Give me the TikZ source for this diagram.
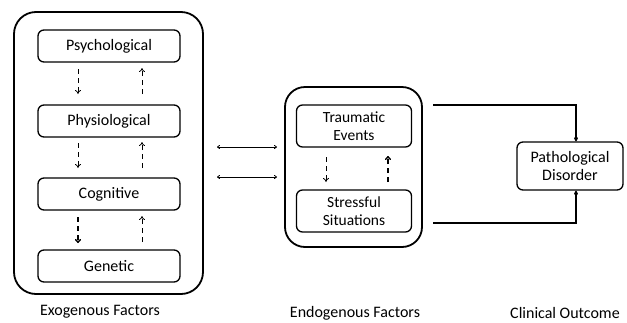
\documentclass[tikz,border=0pt]{standalone}
\usepackage{fontspec}
\setmainfont{Carlito}
\usetikzlibrary{arrows.meta}
\begin{document}
\begin{tikzpicture}[x=1pt,y=-1pt,
  outerbox/.style={draw,line width=1.8pt,rounded corners=22pt},
  innerbox/.style={draw,line width=1.3pt,rounded corners=6pt,inner sep=1pt},
  lbl/.style={font=\fontsize{16}{18}\selectfont,align=center},
  darr/.style={dashed,dash pattern=on 5pt off 4pt,line width=0.8pt,-{To[length=4pt,width=6pt]}},
  dthick/.style={dashed,dash pattern=on 5pt off 4pt,line width=1.4pt,-{To[length=4pt,width=6pt]}},
  harr/.style={line width=0.8pt,{To[length=3pt,width=4pt]}-{To[length=3pt,width=4pt]}},
  conn/.style={line width=1.3pt,-{To[length=4pt,width=4pt]}}]
\useasboundingbox (0,0) rectangle (627,322);
% left group
\draw[outerbox] (14,12) rectangle (203,294);
\node[innerbox,minimum width=142pt,minimum height=32pt,lbl] (psy) at (109,46) {Psychological};
\node[innerbox,minimum width=142pt,minimum height=32pt,lbl] (phy) at (109,121) {Physiological};
\node[innerbox,minimum width=142pt,minimum height=32pt,lbl] (cog) at (109,194) {Cognitive};
\node[innerbox,minimum width=142pt,minimum height=32pt,lbl] (gen) at (109,266) {Genetic};
\draw[darr] (78,69) -- (78,94);
\draw[darr] (142,94) -- (142,68);
\draw[darr] (78,143) -- (78,168);
\draw[darr] (142,168) -- (142,142);
\draw[dthick] (78,217) -- (78,243);
\draw[darr] (142,242) -- (142,216);
\node[lbl] (exo) at (100,312) {Exogenous Factors};
% middle group
\draw[outerbox,rounded corners=20pt] (285,87) rectangle (422,247);
\node[innerbox,minimum width=115pt,minimum height=42pt,lbl,font=\fontsize{15.5}{18}\selectfont] (tra) at (354,126) {Traumatic\\Events};
\node[innerbox,minimum width=115pt,minimum height=42pt,lbl,font=\fontsize{15.5}{18}\selectfont] (str) at (354,211) {Stressful\\Situations};
\draw[darr] (326,157) -- (326,182);
\draw[dthick] (388,182) -- (388,156);
\node[lbl] (endo) at (355,313) {Endogenous Factors};
% double arrows
\coordinate (a1) at (217,147); \coordinate (b1) at (277,147);
\coordinate (a2) at (217,177); \coordinate (b2) at (277,177);
\draw[harr] (a1) -- (b1);
\draw[harr] (a2) -- (b2);
% right group
\node[innerbox,minimum width=106pt,minimum height=48pt,lbl] (pat) at (570,166) {Pathological\\Disorder};
\coordinate (t1) at (433,105);
\coordinate (t2) at (433,223);
\draw[conn] (t1) -| (pat.north -| 576,0);
\draw[conn] (t2) -| (pat.south -| 576,0);
\node[lbl] (clin) at (565,313) {Clinical Outcome};
\end{tikzpicture}
\end{document}
